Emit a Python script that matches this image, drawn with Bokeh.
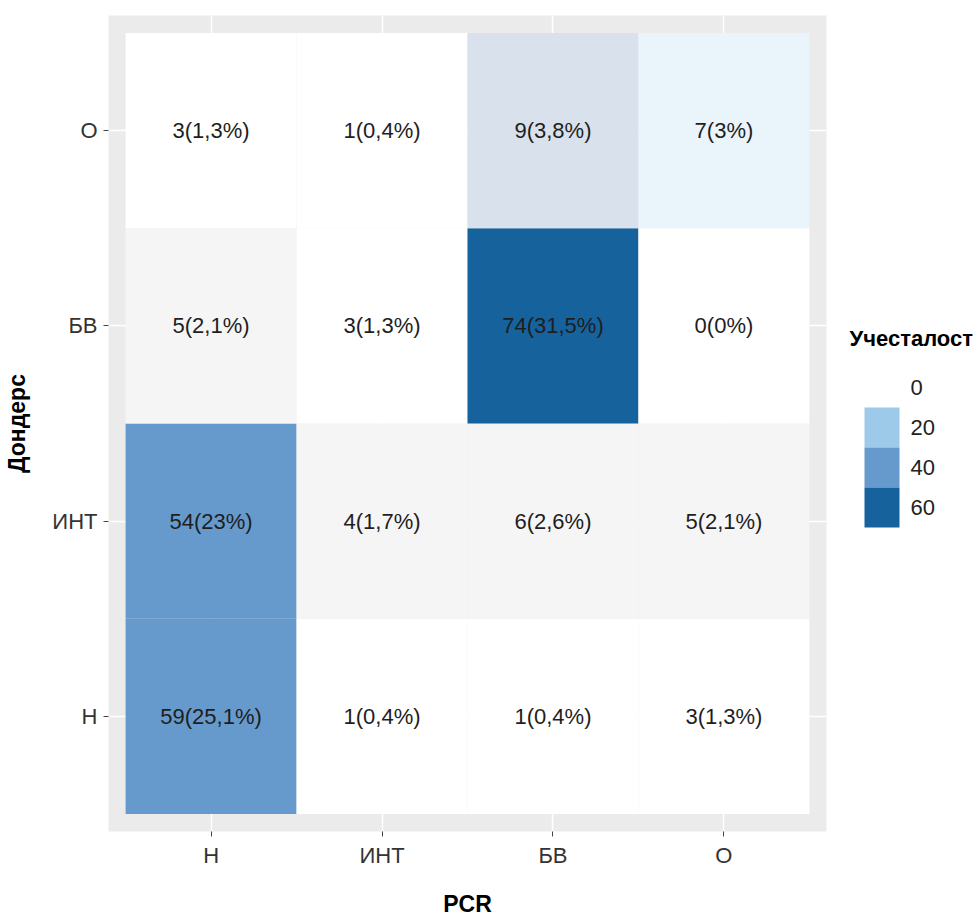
from bokeh.plotting import figure
from bokeh.models import ColumnDataSource, FactorRange, Range1d
from bokeh.layouts import row
from bokeh.core.properties import value
from bokeh.embed import file_html
from bokeh.resources import INLINE

# Categories (Дондерс rows listed bottom to top)
pcr_levels = ["Н", "ИНТ", "БВ", "О"]
donders_levels = ["Н", "ИНТ", "БВ", "О"]

# Counts per Дондерс row, in PCR order
counts_h = [59, 1, 1, 3]
counts_int = [54, 4, 6, 5]
counts_bv = [5, 3, 74, 0]
counts_o = [3, 1, 9, 7]

# Legend breaks
legend_breaks = [0, 20, 40, 60]

KEY_COLOURS = ["#ffffff", "#9ecae9", "#6699cc", "#15629d"]
FONT = "'Liberation Sans', Arial, sans-serif"

FRAME_TOP, FRAME_BOTTOM = 15, 88


def fill_for(n):
    if n >= 60:
        return KEY_COLOURS[3]
    if n >= 40:
        return KEY_COLOURS[2]
    if n >= 20:
        return KEY_COLOURS[1]
    if n >= 9:
        return "#d9e1ec"
    if n >= 7:
        return "#eaf4fb"
    if n >= 4:
        return "#f5f5f5"
    return "#ffffff"


def pct_text(n, total):
    p = round(100 * n / total, 1)
    s = str(int(p)) if p == int(p) else f"{p:.1f}".replace(".", ",")
    return f"{n}({s}%)"


rows = [counts_h, counts_int, counts_bv, counts_o]
total = sum(sum(r) for r in rows)

xs, ys, ns = [], [], []
for d_level, r in zip(donders_levels, rows):
    for p_level, n in zip(pcr_levels, r):
        xs.append(p_level)
        ys.append(d_level)
        ns.append(n)

src = ColumnDataSource(dict(
    pcr=xs,
    donders=ys,
    n=ns,
    fill=[fill_for(n) for n in ns],
    label=[pct_text(n, total) for n in ns],
))

H = 919
p = figure(
    width=840, height=H,
    x_range=FactorRange(*pcr_levels, range_padding=0.05, range_padding_units="percent"),
    y_range=FactorRange(*donders_levels, range_padding=0.045, range_padding_units="percent"),
    output_backend="svg", toolbar_location=None,
    min_border_left=108, min_border_right=14,
    min_border_top=FRAME_TOP, min_border_bottom=FRAME_BOTTOM,
)
p.background_fill_color = "#ebebeb"
p.border_fill_color = "white"
p.outline_line_color = None

p.rect(x="pcr", y="donders", width=1, height=1, source=src,
       fill_color="fill", line_color=None)
p.text(x="pcr", y="donders", text="label", source=src,
       text_align="center", text_baseline="middle",
       text_font=value(FONT), text_font_size="22px", text_color="#1e1e1e")

for g in (p.xgrid, p.ygrid):
    g.grid_line_color = "white"
    g.grid_line_width = 1.5

for ax in (p.xaxis, p.yaxis):
    ax.axis_line_color = None
    ax.major_tick_in = 0
    ax.major_tick_out = 5
    ax.major_tick_line_color = "#444444"
    ax.major_label_text_font = FONT
    ax.major_label_text_font_size = "22px"
    ax.major_label_text_color = "#333333"
    ax.axis_label_text_font = FONT
    ax.axis_label_text_font_style = "bold"
    ax.axis_label_text_font_size = "23px"
    ax.axis_label_text_color = "black"

p.xaxis.axis_label = "PCR"
p.yaxis.axis_label = "Дондерс"
p.xaxis.major_label_standoff = 6
p.xaxis.axis_label_standoff = 20
p.yaxis.major_label_standoff = 6
p.yaxis.axis_label_standoff = 19
p.yaxis.major_label_orientation = "horizontal"

# Legend panel: its frame lines up with the main frame, so the y range
# is set in page pixels between the two frame edges.
leg = figure(
    width=139, height=H,
    x_range=Range1d(0, 139), y_range=Range1d(H - FRAME_BOTTOM, FRAME_TOP),
    x_axis_type=None, y_axis_type=None,
    output_backend="svg", toolbar_location=None,
    min_border_left=0, min_border_right=0,
    min_border_top=FRAME_TOP, min_border_bottom=FRAME_BOTTOM,
)
leg.outline_line_color = None
leg.grid.visible = False
leg.background_fill_color = "white"

key_top, key_h, key_left, key_w = 367, 40, 24, 35
leg_src = ColumnDataSource(dict(
    y=[key_top + key_h * (i + 0.5) for i in range(len(legend_breaks))],
    fill=KEY_COLOURS,
    label=[str(b) for b in legend_breaks],
))
leg.rect(x=key_left + key_w / 2, y="y", width=key_w, height=key_h,
         source=leg_src, fill_color="fill", line_color=None)
leg.text(x=key_left + key_w + 11, y="y", text="label", source=leg_src,
         text_align="left", text_baseline="middle",
         text_font=value(FONT), text_font_size="22px", text_color="#222222")
leg.text(x=[9], y=[338], text=["Учесталост"],
         text_align="left", text_baseline="middle",
         text_font=value(FONT), text_font_style="bold",
         text_font_size="22px", text_color="black")

layout = row(p, leg)

with open("out.html", "w") as f:
    f.write(file_html(layout, INLINE))
